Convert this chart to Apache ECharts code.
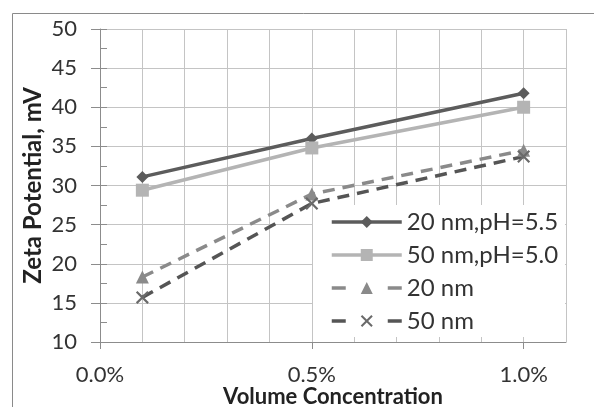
<!DOCTYPE html>
<html>
<head>
<meta charset="utf-8">
<script src="https://cdn.jsdelivr.net/npm/echarts@6/dist/echarts.min.js"></script>
<style>
  html, body { margin: 0; padding: 0; background: #fff; }
  #main { width: 594px; height: 407px; }
</style>
</head>
<body>
<div id="main"></div>
<script>
// volume concentration (%) of the measured samples
var concentration = [0.1, 0.5, 1.0];
var seriesNames = ['20 nm,pH=5.5', '50 nm,pH=5.0', '20 nm', '50 nm'];
// zeta potential, mV
var zeta20ph55 = [31.1, 36.0, 41.8];
var zeta50ph50 = [29.4, 34.8, 40.0];
var zeta20 = [18.3, 28.9, 34.5];
var zeta50 = [15.7, 27.7, 33.7];
var xTickValues = [0, 0.5, 1.0];

function pairs(ys) {
    return ys.map(function (y, i) { return [concentration[i], y]; });
}

var font = 'Lato';
var crossPath = 'path://M0,1.2 L1.2,0 L5,3.8 L8.8,0 L10,1.2 L6.2,5 L10,8.8 L8.8,10 L5,6.2 L1.2,10 L0,8.8 L3.8,5 Z';
var lw = 3.5;

var chart = echarts.init(document.getElementById('main'));
var option = {
    animation: false,
    backgroundColor: '#fff',
    grid: { left: 100, right: 28, top: 29, bottom: 65, outerBoundsMode: 'none', containLabel: false },
    graphic: [
        {
            type: 'rect', z: 0,
            shape: { x: 12.5, y: 13.5, width: 700, height: 500 },
            style: { fill: 'none', stroke: '#8a8a8a', lineWidth: 1 }
        },
        {
            // legend box hides the grid behind it
            type: 'rect', z: 1,
            shape: { x: 313, y: 205, width: 252, height: 132 },
            style: { fill: '#fff' }
        }
    ],
    legend: {
        orient: 'vertical',
        left: 330,
        top: 210,
        padding: 0,
        itemWidth: 70,
        itemHeight: 15,
        itemGap: 9,
        textStyle: { fontFamily: font, fontSize: 24, color: '#333' },
        data: [
            { name: seriesNames[0], lineStyle: { width: lw } },
            { name: seriesNames[1], lineStyle: { width: lw } },
            { name: seriesNames[2], lineStyle: { width: lw, type: [14, 42] } },
            { name: seriesNames[3], lineStyle: { width: lw, type: [14, 42] } }
        ]
    },
    xAxis: [
        {
            type: 'value',
            min: 0,
            max: 1.1,
            interval: 0.1,
            name: 'Volume Concentration',
            nameLocation: 'middle',
            nameGap: 44,
            nameMoveOverlap: false,
            nameTextStyle: { fontFamily: font, fontSize: 22, fontWeight: 'bold', color: '#222' },
            axisLine: { lineStyle: { color: '#8c8c8c', width: 1 } },
            axisTick: { show: false },
            axisLabel: {
                margin: 22,
                fontFamily: font, fontSize: 22, color: '#333',
                formatter: function (v) {
                    var k = Math.round(v * 10);
                    return k % 5 === 0 && k <= 10 ? v.toFixed(1) + '%' : '';
                }
            },
            splitLine: { show: true, lineStyle: { color: '#c4c4c4', width: 1 } }
        },
        {
            // major ticks only at the labelled values
            type: 'value',
            min: 0,
            max: 1.1,
            position: 'bottom',
            axisLine: { show: false },
            axisTick: { show: true, customValues: xTickValues, length: 7, lineStyle: { color: '#8c8c8c' } },
            axisLabel: { show: false },
            splitLine: { show: false }
        }
    ],
    yAxis: [
        {
            type: 'value',
            min: 10,
            max: 50,
            interval: 5,
            name: 'Zeta Potential, mV',
            nameLocation: 'middle',
            nameGap: 55,
            nameMoveOverlap: false,
            nameTextStyle: { fontFamily: font, fontSize: 24, fontWeight: 'bold', color: '#222' },
            axisLine: { show: true, lineStyle: { color: '#8c8c8c', width: 1 } },
            axisTick: { show: true, length: 9, lineStyle: { color: '#8c8c8c' } },
            axisLabel: { margin: 23, fontFamily: font, fontSize: 22, color: '#333' },
            splitLine: { show: true, lineStyle: { color: '#c4c4c4', width: 1 } }
        },
        {
            // half-step ticks drawn inside the plot
            type: 'value',
            min: 10,
            max: 50,
            interval: 2.5,
            position: 'left',
            axisLine: { show: false },
            axisTick: { show: true, inside: true, length: 7, lineStyle: { color: '#8c8c8c' } },
            axisLabel: { show: false },
            splitLine: { show: false }
        }
    ],
    series: [
        {
            name: seriesNames[0], type: 'line', data: pairs(zeta20ph55),
            symbol: 'diamond', symbolSize: 12,
            lineStyle: { color: '#5c5c5c', width: lw },
            itemStyle: { color: '#5c5c5c' }
        },
        {
            name: seriesNames[1], type: 'line', data: pairs(zeta50ph50),
            symbol: 'rect', symbolSize: 13,
            lineStyle: { color: '#b4b4b4', width: lw },
            itemStyle: { color: '#b4b4b4' }
        },
        {
            name: seriesNames[2], type: 'line', data: pairs(zeta20),
            symbol: 'triangle', symbolSize: 13,
            lineStyle: { color: '#8a8a8a', width: lw, type: [12, 8] },
            itemStyle: { color: '#8a8a8a' }
        },
        {
            name: seriesNames[3], type: 'line', data: pairs(zeta50),
            symbol: crossPath, symbolSize: 13,
            lineStyle: { color: '#555555', width: lw, type: [12, 8] },
            itemStyle: { color: '#6a6a6a' }
        }
    ]
};
chart.setOption(option);
</script>
</body>
</html>
